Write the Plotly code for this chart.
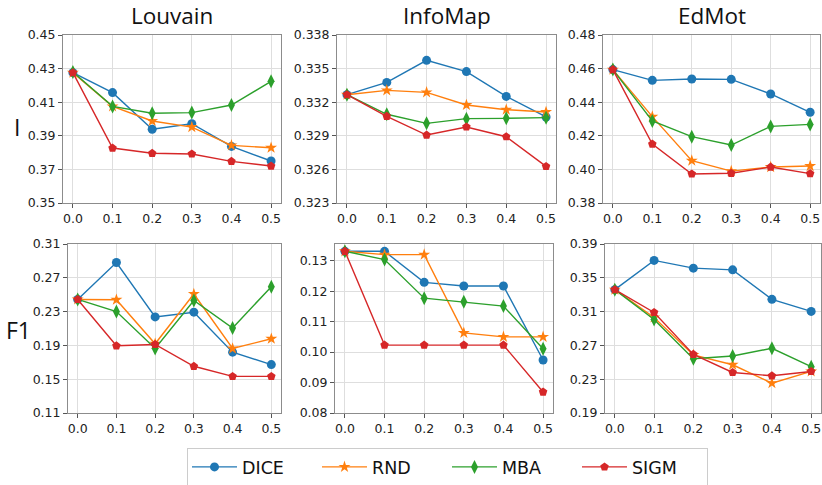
import plotly.graph_objects as go

x_vals = [0.0, 0.1, 0.2, 0.3, 0.4, 0.5]
x_ticktext = ["0.0", "0.1", "0.2", "0.3", "0.4", "0.5"]

methods = ["Louvain", "InfoMap", "EdMot"]
metrics = ["I", "F1"]
series_names = ["DICE", "RND", "MBA", "SIGM"]

# I metric
louvain_I_dice = [0.4276, 0.4157, 0.3939, 0.3972, 0.3837, 0.3750]
louvain_I_rnd  = [0.4276, 0.4075, 0.3988, 0.3952, 0.3843, 0.3829]
louvain_I_mba  = [0.4280, 0.4075, 0.4034, 0.4038, 0.4083, 0.4224]
louvain_I_sigm = [0.4276, 0.3827, 0.3796, 0.3792, 0.3748, 0.3720]

infomap_I_dice = [0.33267, 0.33377, 0.33574, 0.33473, 0.33252, 0.33068]
infomap_I_rnd  = [0.33267, 0.33306, 0.33288, 0.33175, 0.33133, 0.33113]
infomap_I_mba  = [0.33267, 0.33092, 0.33011, 0.33053, 0.33056, 0.33062]
infomap_I_sigm = [0.33267, 0.33074, 0.32907, 0.32979, 0.32892, 0.32627]

edmot_I_dice = [0.4594, 0.4530, 0.4538, 0.4536, 0.4449, 0.4340]
edmot_I_rnd  = [0.4594, 0.4314, 0.4052, 0.3990, 0.4014, 0.4020]
edmot_I_mba  = [0.4594, 0.4288, 0.4195, 0.4145, 0.4256, 0.4268]
edmot_I_sigm = [0.4594, 0.4151, 0.3973, 0.3977, 0.4014, 0.3975]

# F1 metric
louvain_F1_dice = [0.2444, 0.2881, 0.2237, 0.2293, 0.1820, 0.1673]
louvain_F1_rnd  = [0.2444, 0.2440, 0.1919, 0.2508, 0.1863, 0.1979]
louvain_F1_mba  = [0.2444, 0.2301, 0.1863, 0.2432, 0.2106, 0.2595]
louvain_F1_sigm = [0.2444, 0.1895, 0.1911, 0.1653, 0.1533, 0.1533]

infomap_F1_dice = [0.1331, 0.1331, 0.1229, 0.1217, 0.1217, 0.0974]
infomap_F1_rnd  = [0.1331, 0.1320, 0.1320, 0.1063, 0.1050, 0.1050]
infomap_F1_mba  = [0.1331, 0.1304, 0.1177, 0.1165, 0.1151, 0.1011]
infomap_F1_sigm = [0.1331, 0.1023, 0.1023, 0.1023, 0.1023, 0.0869]

edmot_F1_dice = [0.3360, 0.3706, 0.3614, 0.3594, 0.3245, 0.3102]
edmot_F1_rnd  = [0.3360, 0.3030, 0.2587, 0.2471, 0.2253, 0.2392]
edmot_F1_mba  = [0.3360, 0.3007, 0.2543, 0.2575, 0.2666, 0.2448]
edmot_F1_sigm = [0.3360, 0.3090, 0.2594, 0.2380, 0.2340, 0.2392]

# y-axis ticks
louvain_I_ticks = [0.35, 0.37, 0.39, 0.41, 0.43, 0.45]
louvain_I_ticktext = ["0.35", "0.37", "0.39", "0.41", "0.43", "0.45"]
infomap_I_ticks = [0.323, 0.326, 0.329, 0.332, 0.335, 0.338]
infomap_I_ticktext = ["0.323", "0.326", "0.329", "0.332", "0.335", "0.338"]
edmot_I_ticks = [0.38, 0.40, 0.42, 0.44, 0.46, 0.48]
edmot_I_ticktext = ["0.38", "0.40", "0.42", "0.44", "0.46", "0.48"]
louvain_F1_ticks = [0.11, 0.15, 0.19, 0.23, 0.27, 0.31]
louvain_F1_ticktext = ["0.11", "0.15", "0.19", "0.23", "0.27", "0.31"]
infomap_F1_ticks = [0.08, 0.09, 0.10, 0.11, 0.12, 0.13]
infomap_F1_ticktext = ["0.08", "0.09", "0.10", "0.11", "0.12", "0.13"]
edmot_F1_ticks = [0.19, 0.23, 0.27, 0.31, 0.35, 0.39]
edmot_F1_ticktext = ["0.19", "0.23", "0.27", "0.31", "0.35", "0.39"]

panels = [
    (0, 0, [louvain_I_dice, louvain_I_rnd, louvain_I_mba, louvain_I_sigm], louvain_I_ticks, louvain_I_ticktext, [0.35, 0.45]),
    (0, 1, [infomap_I_dice, infomap_I_rnd, infomap_I_mba, infomap_I_sigm], infomap_I_ticks, infomap_I_ticktext, [0.323, 0.338]),
    (0, 2, [edmot_I_dice, edmot_I_rnd, edmot_I_mba, edmot_I_sigm], edmot_I_ticks, edmot_I_ticktext, [0.38, 0.48]),
    (1, 0, [louvain_F1_dice, louvain_F1_rnd, louvain_F1_mba, louvain_F1_sigm], louvain_F1_ticks, louvain_F1_ticktext, [0.11, 0.31]),
    (1, 1, [infomap_F1_dice, infomap_F1_rnd, infomap_F1_mba, infomap_F1_sigm], infomap_F1_ticks, infomap_F1_ticktext, [0.08, 0.1355]),
    (1, 2, [edmot_F1_dice, edmot_F1_rnd, edmot_F1_mba, edmot_F1_sigm], edmot_F1_ticks, edmot_F1_ticktext, [0.19, 0.39]),
]

colors = ["#1f77b4", "#ff7f0e", "#2ca02c", "#d62728"]
symbols = ["circle", "star", "diamond-tall", "pentagon"]
msizes = [9, 9, 10, 9]

W, H = 822, 485
xdom_px = {
    (0, 0): (63, 281), (0, 1): (337, 556), (0, 2): (603, 820),
    (1, 0): (68, 281), (1, 1): (335, 553), (1, 2): (605, 821),
}
ydom_px = {0: (35, 203), 1: (244, 413)}

fig = go.Figure()
layout_axes = {}
tick_font = dict(family="DejaVu Sans", size=12.5, color="#222")
for i, (r, c, data, yt, ytt, yr) in enumerate(panels):
    idx = i + 1
    xa = "x" if idx == 1 else f"x{idx}"
    ya = "y" if idx == 1 else f"y{idx}"
    for s, vals in enumerate(data):
        fig.add_trace(go.Scatter(
            x=x_vals, y=vals, mode="lines+markers", name=series_names[s],
            line=dict(color=colors[s], width=1.4),
            marker=dict(symbol=symbols[s], size=msizes[s], color=colors[s]),
            xaxis=xa, yaxis=ya, showlegend=(i == 0), legendgroup=series_names[s],
        ))
    x0, x1 = xdom_px[(r, c)]
    y0, y1 = ydom_px[r]
    common = dict(showline=True, mirror=True, linecolor="#8c8c8c", linewidth=1,
                  showgrid=True, gridcolor="#dedede", gridwidth=1,
                  ticks="outside", ticklen=4, tickcolor="#555", tickfont=tick_font,
                  zeroline=False)
    layout_axes["xaxis" if idx == 1 else f"xaxis{idx}"] = dict(
        domain=[x0 / W, x1 / W], anchor=ya, range=[-0.025, 0.525],
        tickvals=x_vals, ticktext=x_ticktext, **common)
    layout_axes["yaxis" if idx == 1 else f"yaxis{idx}"] = dict(
        domain=[1 - y1 / H, 1 - y0 / H], anchor=xa, range=yr,
        tickvals=yt, ticktext=ytt, **common)

annotations = []
title_x = [172, 447, 712]
for c, name in enumerate(methods):
    annotations.append(dict(text=name, x=title_x[c] / W, y=1 - 15 / H, xref="paper", yref="paper",
                            showarrow=False, xanchor="center", yanchor="middle",
                            font=dict(family="Open Sans", size=22.5, color="#111")))
row_y = [127, 330]
row_x = [17, 18]
for r, name in enumerate(metrics):
    annotations.append(dict(text=name, x=row_x[r] / W, y=1 - row_y[r] / H, xref="paper", yref="paper",
                            showarrow=False, xanchor="center", yanchor="middle",
                            font=dict(family="Open Sans", size=23, color="#111")))

fig.update_layout(
    width=W, height=H,
    margin=dict(l=0, r=0, t=0, b=0, autoexpand=False),
    paper_bgcolor="white", plot_bgcolor="white",
    annotations=annotations,
    legend=dict(orientation="h", x=187 / W, xanchor="left", y=1 - 467 / H, yanchor="middle",
                font=dict(family="DejaVu Sans", size=17.5, color="#111"),
                bordercolor="#cccccc", borderwidth=1, entrywidth=70,
                itemwidth=45, tracegroupgap=0),
    **layout_axes,
)

fig.write_html("out.html",
               config={"displayModeBar": False},
               post_script="document.body.style.margin='0px';document.body.style.overflow='hidden';")
